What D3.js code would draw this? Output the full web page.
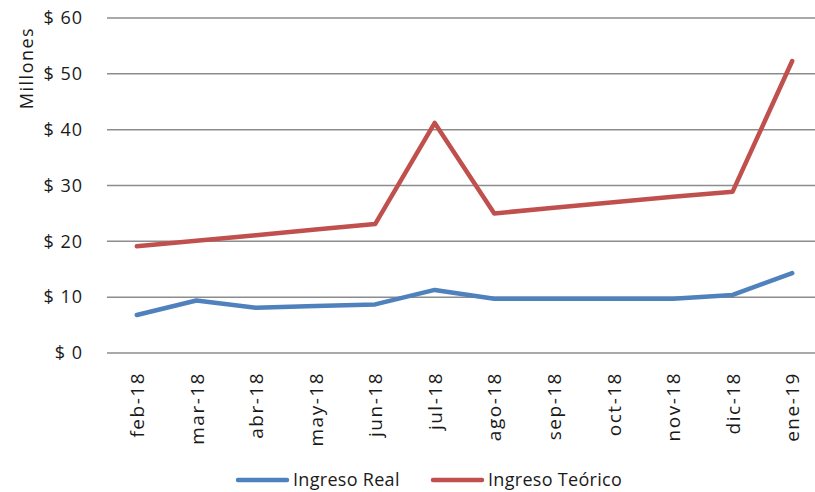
<!DOCTYPE html>
<html>
<head>
<meta charset="utf-8">
<script src="https://cdn.jsdelivr.net/npm/d3@7"></script>
<style>
  body { margin: 0; background: #fff; }
  text { font-family: "Open Sans", "Liberation Sans", sans-serif; fill: #1a1a1a; }
</style>
</head>
<body>
<div id="chart"></div>
<script>
// data (millones)
var months = ["feb-18", "mar-18", "abr-18", "may-18", "jun-18", "jul-18",
              "ago-18", "sep-18", "oct-18", "nov-18", "dic-18", "ene-19"];
var ingresoReal = [6.8, 9.4, 8.1, 8.4, 8.7, 11.3, 9.7, 9.7, 9.7, 9.7, 10.4, 14.3];
var ingresoTeorico = [19.1, 20.1, 21.1, 22.1, 23.1, 41.2, 25.0, 26.0, 27.0, 28.0, 28.9, 52.3];
var yTicks = [0, 10, 20, 30, 40, 50, 60];

var series = [
  { name: "Ingreso Real", values: ingresoReal, color: "#4F81BD" },
  { name: "Ingreso Teórico", values: ingresoTeorico, color: "#C0504D" }
];

var W = 815, H = 492;
var margin = { top: 18, right: -7, bottom: 139, left: 107 };
var width = W - margin.left - margin.right;
var height = H - margin.top - margin.bottom;

var svg = d3.select("#chart").append("svg")
  .attr("width", W)
  .attr("height", H);

var g = svg.append("g")
  .attr("transform", `translate(${margin.left},${margin.top})`);

// scales
var x = d3.scalePoint().domain(months).range([0, width]).padding(0.5);
var y = d3.scaleLinear().domain([0, 60]).range([height, 0]);

// grid lines
g.selectAll(".grid")
  .data(yTicks)
  .join("line")
  .attr("class", "grid")
  .attr("x1", 0)
  .attr("x2", width)
  .attr("y1", d => y(d))
  .attr("y2", d => y(d))
  .attr("stroke", "#8c8c8c")
  .attr("stroke-width", 1.5);

// y axis labels
var yAxis = d3.axisLeft(y).tickValues(yTicks).tickSize(0).tickPadding(24)
  .tickFormat(d => "$ " + d);
g.append("g").attr("class", "y-axis").call(yAxis)
  .call(a => a.select(".domain").remove())
  .selectAll("text")
  .style("font-size", "18px")
  .style("letter-spacing", "1px");

// x axis labels (rotated)
var xAxis = d3.axisBottom(x).tickSize(0).tickPadding(0);
g.append("g").attr("class", "x-axis")
  .attr("transform", `translate(0,${height})`)
  .call(xAxis)
  .call(a => a.select(".domain").remove())
  .selectAll("text")
  .style("font-size", "19px")
  .style("letter-spacing", "1.5px")
  .attr("text-anchor", "end")
  .attr("dy", "0.35em")
  .attr("transform", "translate(0,19) rotate(-90)");

// y title
svg.append("text")
  .attr("transform", "translate(33,68) rotate(-90)")
  .attr("text-anchor", "middle")
  .style("font-size", "18px")
  .style("letter-spacing", "1.5px")
  .text("Millones");

// lines
var line = d3.line()
  .x((d, i) => x(months[i]))
  .y(d => y(d));

g.selectAll(".series")
  .data(series)
  .join("path")
  .attr("class", "series")
  .attr("fill", "none")
  .attr("stroke", d => d.color)
  .attr("stroke-width", 4.5)
  .attr("stroke-linecap", "round")
  .attr("stroke-linejoin", "round")
  .attr("d", d => line(d.values));

// legend
var legendX = [238, 433];
var legend = svg.selectAll(".legend")
  .data(series)
  .join("g")
  .attr("class", "legend")
  .attr("transform", (d, i) => `translate(${legendX[i]},480)`);

legend.append("line")
  .attr("x1", 0).attr("x2", 49)
  .attr("stroke", d => d.color)
  .attr("stroke-width", 4.5)
  .attr("stroke-linecap", "round");

legend.append("text")
  .attr("x", 55)
  .attr("dy", "0.35em")
  .style("font-size", "18px")
  .style("letter-spacing", "0.3px")
  .text(d => d.name);
</script>
</body>
</html>
